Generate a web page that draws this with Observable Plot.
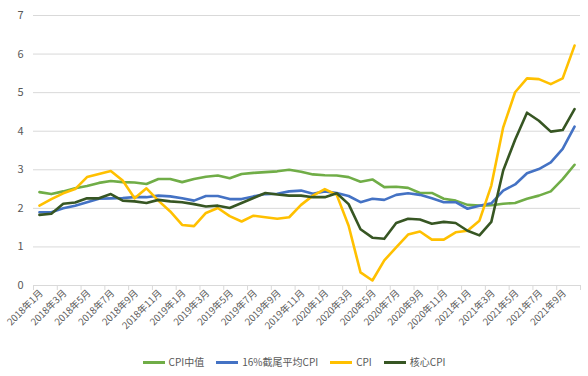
<!DOCTYPE html>
<html>
<head>
<meta charset="utf-8">
<script src="https://cdn.jsdelivr.net/npm/d3@7"></script>
<script src="https://cdn.jsdelivr.net/npm/@observablehq/plot@0.6"></script>
<style>
  html, body { margin: 0; padding: 0; background: #fff; }
  body { width: 588px; height: 376px; overflow: hidden; font-family: "Noto Sans CJK SC", "Noto Sans", sans-serif; }
  #legend { display: flex; justify-content: center; align-items: center; margin-top: 10px; font-size: 10px; line-height: 14px; color: #595959; }
  .item { display: flex; align-items: center; margin: 0 6px; }
  .sw { width: 22px; height: 3px; margin-right: 4px; }
</style>
</head>
<body>
<div id="chart"></div>
<div id="legend"></div>
<script>
const months = [
  "2018年1月","2018年2月","2018年3月","2018年4月","2018年5月","2018年6月","2018年7月","2018年8月","2018年9月","2018年10月","2018年11月","2018年12月",
  "2019年1月","2019年2月","2019年3月","2019年4月","2019年5月","2019年6月","2019年7月","2019年8月","2019年9月","2019年10月","2019年11月","2019年12月",
  "2020年1月","2020年2月","2020年3月","2020年4月","2020年5月","2020年6月","2020年7月","2020年8月","2020年9月","2020年10月","2020年11月","2020年12月",
  "2021年1月","2021年2月","2021年3月","2021年4月","2021年5月","2021年6月","2021年7月","2021年8月","2021年9月","2021年10月"
];
const medianCPI = [
  2.42,2.37,2.44,2.52,2.58,2.66,2.71,2.68,2.67,2.63,2.76,2.76,
  2.68,2.76,2.82,2.85,2.78,2.89,2.92,2.94,2.96,3.00,2.95,2.88,
  2.86,2.85,2.81,2.69,2.75,2.55,2.56,2.53,2.40,2.40,2.25,2.20,
  2.09,2.07,2.08,2.12,2.14,2.25,2.33,2.44,2.76,3.13
];
const trimmedCPI = [
  1.90,1.90,2.00,2.07,2.16,2.25,2.26,2.27,2.29,2.29,2.33,2.31,
  2.26,2.20,2.32,2.32,2.24,2.24,2.31,2.37,2.38,2.44,2.46,2.38,
  2.44,2.40,2.32,2.16,2.25,2.22,2.35,2.39,2.35,2.26,2.16,2.16,
  1.99,2.07,2.13,2.46,2.62,2.91,3.02,3.19,3.54,4.12
];
const headlineCPI = [
  2.07,2.24,2.39,2.50,2.81,2.89,2.97,2.72,2.26,2.52,2.20,1.92,
  1.57,1.54,1.88,2.01,1.80,1.66,1.81,1.77,1.73,1.77,2.09,2.33,
  2.50,2.35,1.55,0.34,0.13,0.65,0.99,1.32,1.40,1.19,1.19,1.38,
  1.42,1.68,2.59,4.10,5.01,5.37,5.35,5.22,5.37,6.22
];
const coreCPI = [
  1.83,1.86,2.12,2.15,2.26,2.26,2.37,2.20,2.18,2.14,2.22,2.18,
  2.16,2.11,2.05,2.07,2.01,2.14,2.27,2.40,2.36,2.33,2.33,2.29,
  2.29,2.39,2.11,1.46,1.24,1.21,1.62,1.73,1.71,1.60,1.65,1.62,
  1.42,1.30,1.65,2.98,3.78,4.48,4.27,3.99,4.03,4.57
];
const seriesNames = ["CPI中值","16%截尾平均CPI","CPI","核心CPI"];
const seriesColors = ["#70AD47","#4472C4","#FFC000","#375623"];
const yTicks = [0,1,2,3,4,5,6,7];

const seriesValues = [medianCPI, trimmedCPI, headlineCPI, coreCPI];
const data = seriesValues.flatMap((vals, s) => vals.map((v, i) => ({i, v, s: seriesNames[s]})));
const labelIdx = months.map((_, i) => i).filter(i => i % 2 === 0);
const boundaries = d3.range(-0.5, months.length, 2).concat([months.length - 0.5]);

const font = "'Noto Sans CJK SC', 'Noto Sans', sans-serif";
const chart = Plot.plot({
  width: 588,
  height: 345,
  marginLeft: 33,
  marginRight: 8,
  marginTop: 15,
  marginBottom: 60,
  style: {fontFamily: font, fontSize: "10px", color: "#595959", background: "#fff", overflow: "visible"},
  x: {type: "linear", domain: [-0.5, months.length - 0.5], axis: null},
  y: {domain: [0, 7], axis: null},
  color: {domain: seriesNames, range: seriesColors},
  marks: [
    Plot.ruleY(yTicks, {stroke: "#D9D9D9", strokeWidth: 1}),
    Plot.axisY({ticks: yTicks, tickFormat: d => String(d), tickSize: 0, tickPadding: 10, fontSize: 11, fill: "#595959", label: null}),
    Plot.axisX({ticks: boundaries, tickSize: 5, tickFormat: () => "", stroke: "#D9D9D9", label: null}),
    Plot.axisX({ticks: labelIdx, tickFormat: i => months[i], tickSize: 0, tickPadding: 6, tickRotate: -45, fontSize: 9.6, dx: 2, fill: "#595959", label: null}),
    Plot.line(data, {x: "i", y: "v", z: "s", stroke: "s", strokeWidth: 2.6, strokeLinejoin: "round", strokeLinecap: "round"})
  ]
});
document.getElementById("chart").appendChild(chart);

const legend = document.getElementById("legend");
seriesNames.forEach((name, k) => {
  const item = document.createElement("div");
  item.className = "item";
  const sw = document.createElement("span");
  sw.className = "sw";
  sw.style.background = seriesColors[k];
  const t = document.createElement("span");
  t.textContent = name;
  item.appendChild(sw);
  item.appendChild(t);
  legend.appendChild(item);
});
</script>
</body>
</html>
